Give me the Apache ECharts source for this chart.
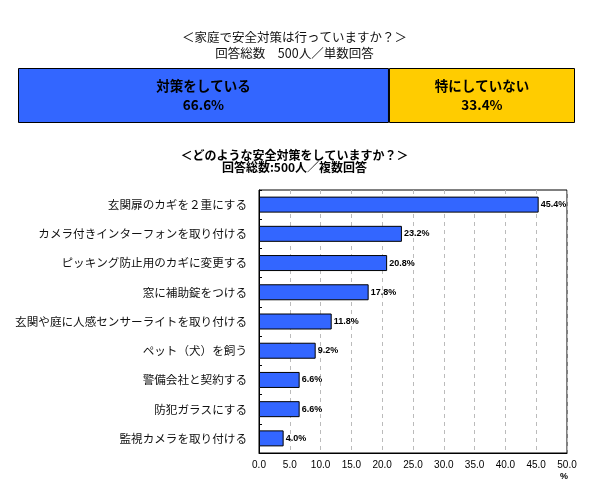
<!DOCTYPE html>
<html><head><meta charset="utf-8">
<script src="https://cdn.jsdelivr.net/npm/echarts@6/dist/echarts.min.js"></script>
<style>html,body{margin:0;padding:0;background:#fff}#c{width:589px;height:498px}</style>
</head><body><div id="c"></div>
<script>
const topTitle1 = '＜家庭で安全対策は行っていますか？＞';
const topTitle2 = '回答総数　500人／単数回答';
const topNames = ['対策をしている', '特にしていない'];
const topValues = [66.6, 33.4];

const title1 = '＜どのような安全対策をしていますか？＞';
const title2 = '回答総数:500人／複数回答';
const categories = ['玄関扉のカギを２重にする','カメラ付きインターフォンを取り付ける','ピッキング防止用のカギに変更する','窓に補助錠をつける','玄関や庭に人感センサーライトを取り付ける','ペット（犬）を飼う','警備会社と契約する','防犯ガラスにする','監視カメラを取り付ける'];
const values = [45.4, 23.2, 20.8, 17.8, 11.8, 9.2, 6.6, 6.6, 4.0];
const axisUnit = '%';

const FONT = '"Noto Sans CJK JP", "Noto Sans", sans-serif';
const chart = echarts.init(document.getElementById('c'), null, {renderer:'canvas'});
const topColors = ['#3366FF', '#FFCC00'];

chart.setOption({
  animation: false,
  backgroundColor: '#fff',
  textStyle: {fontFamily: FONT},
  title: [
    {text: topTitle1 + '\n' + topTitle2, left: 'center', top: 24,
     textStyle: {fontSize: 12.5, fontWeight: 'normal', color: '#111', lineHeight: 16, fontFamily: FONT}},
    {text: title1 + '\n' + title2, left: 'center', top: 144,
     textStyle: {fontSize: 12, fontWeight: 'bold', color: '#000', lineHeight: 12, fontFamily: FONT}}
  ],
  graphic: [
    {type: 'text', left: 560, top: 472, style: {text: axisUnit, fontSize: 9, fontWeight: 'bold', fill: '#000', fontFamily: 'Liberation Sans, sans-serif'}}
  ],
  grid: [
    {left: 18, right: 14, top: 68, height: 55},
    {left: 259, right: 22, top: 190, height: 263, show: true, borderColor: '#000', borderWidth: 1}
  ],
  xAxis: [
    {gridIndex: 0, type: 'value', min: 0, max: 100, show: false},
    {gridIndex: 1, type: 'value', min: 0, max: 50, interval: 5,
     axisLine: {show: true, lineStyle: {color: '#000'}},
     axisTick: {show: false},
     splitLine: {show: true, lineStyle: {color: '#bbb', type: [4, 4]}},
     axisLabel: {color: '#000', fontSize: 10, margin: 7, fontFamily: 'Liberation Sans, sans-serif',
       formatter: v => v.toFixed(1)}}
  ],
  yAxis: [
    {gridIndex: 0, type: 'category', data: ['q'], show: false},
    {gridIndex: 1, type: 'category', data: categories, inverse: true,
     axisLine: {show: true, lineStyle: {color: '#000'}},
     axisTick: {show: true, inside: true, length: 3, lineStyle: {color: '#000'}},
     axisLabel: {color: '#111', fontSize: 11.6, margin: 12, fontFamily: FONT}}
  ],
  series: [
    ...topNames.map((n, i) => ({
      type: 'bar', xAxisIndex: 0, yAxisIndex: 0, stack: 'top', barWidth: 55,
      data: [topValues[i]],
      itemStyle: {color: topColors[i], borderColor: '#000', borderWidth: 1},
      label: {show: true, position: 'inside', color: '#000', fontSize: 13.5, fontWeight: 'bold', lineHeight: 19,
        fontFamily: FONT, formatter: () => n + '\n' + topValues[i].toFixed(1) + '%'}
    })),
    {type: 'bar', xAxisIndex: 1, yAxisIndex: 1, data: values, barWidth: 16,
     itemStyle: {color: '#3366FF', borderColor: '#000', borderWidth: 1},
     label: {show: true, position: 'right', distance: 2, color: '#000', fontSize: 9, fontWeight: 'bold',
       fontFamily: 'Liberation Sans, sans-serif', formatter: p => p.value.toFixed(1) + '%'}}
  ]
});
</script></body></html>
